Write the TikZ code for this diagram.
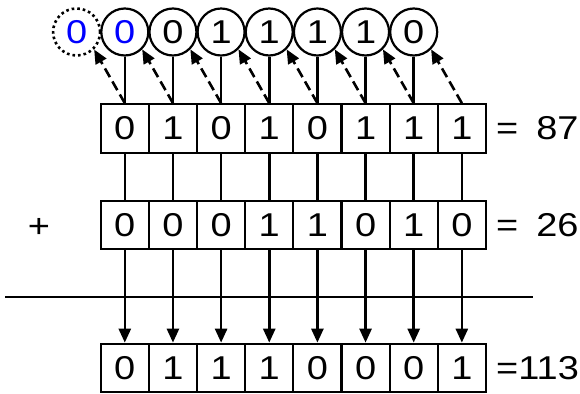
\documentclass[tikz,border=0pt]{standalone}
\usepackage{fontspec}
\setmainfont[FakeStretch=1.15]{Liberation Sans}
\usetikzlibrary{arrows.meta}
\definecolor{cblue}{RGB}{0,0,255}
\begin{document}
\begin{tikzpicture}[x=1pt,y=-1pt,
  digitfont/.style={font=\fontsize{33}{36}\selectfont},
  bitbox/.style={draw, line width=2.2pt, minimum width=48.15pt, minimum height=48.5pt, inner sep=0pt, digitfont},
  carry/.style={circle, draw, line width=2.2pt, minimum size=47pt, inner sep=0pt, digitfont},
  dotcarry/.style={carry, dash pattern=on 2.6pt off 3pt, line width=2.6pt, text=cblue},
  link/.style={line width=2.6pt},
  tip/.style={-{Triangle[length=14pt,width=12pt]}},
  dashlink/.style={link, tip, dash pattern=on 10pt off 5pt},
  lbl/.style={anchor=west, inner sep=0pt, digitfont}
]
\useasboundingbox (0,0) rectangle (580,393);

% carry circles
\node[dotcarry] (c0) at (76.6,32) {0};
\node[carry, text=cblue] (c1) at (124.8,32) {0};
\foreach \d [count=\k from 2] in {0,1,1,1,1,0}
  \node[carry] (c\k) at ({124.8+48.15*(\k-1)},32) {\d};

% rows of bits
\foreach \b [count=\i from 0] in {0,1,0,1,0,1,1,1}
  \node[bitbox] (a\i) at ({124.8+48.15*\i},128.5) {\b};
\foreach \b [count=\i from 0] in {0,0,0,1,1,0,1,0}
  \node[bitbox] (b\i) at ({124.8+48.15*\i},225) {\b};
\foreach \b [count=\i from 0] in {0,1,1,1,0,0,0,1}
  \node[bitbox] (r\i) at ({124.8+48.15*\i},368) {\b};

% connectors
\foreach \i in {0,...,7} {
  \draw[dashlink] (a\i.north) -- (c\i.south east);
  \draw[link] (a\i.south) -- (b\i.north);
  \draw[link, tip] (b\i.south) -- (r\i.north);
}
\foreach \i [evaluate=\i as \k using int(\i+1)] in {0,...,6}
  \draw[link] (c\k.south) -- (a\i.north);

% sum line
\coordinate (hl) at (5,297);
\coordinate (hr) at (533,297);
\draw[link] (hl) -- (hr);

% labels
\node[digitfont, inner sep=0pt] (plus) at (39,228) {+};
\node[lbl] (eqa) at (496,128.5) {=\hspace{18pt}87};
\node[lbl] (eqb) at (496,225) {=\hspace{18pt}26};
\node[lbl] (eqr) at (496,368) {=113};
\end{tikzpicture}
\end{document}
